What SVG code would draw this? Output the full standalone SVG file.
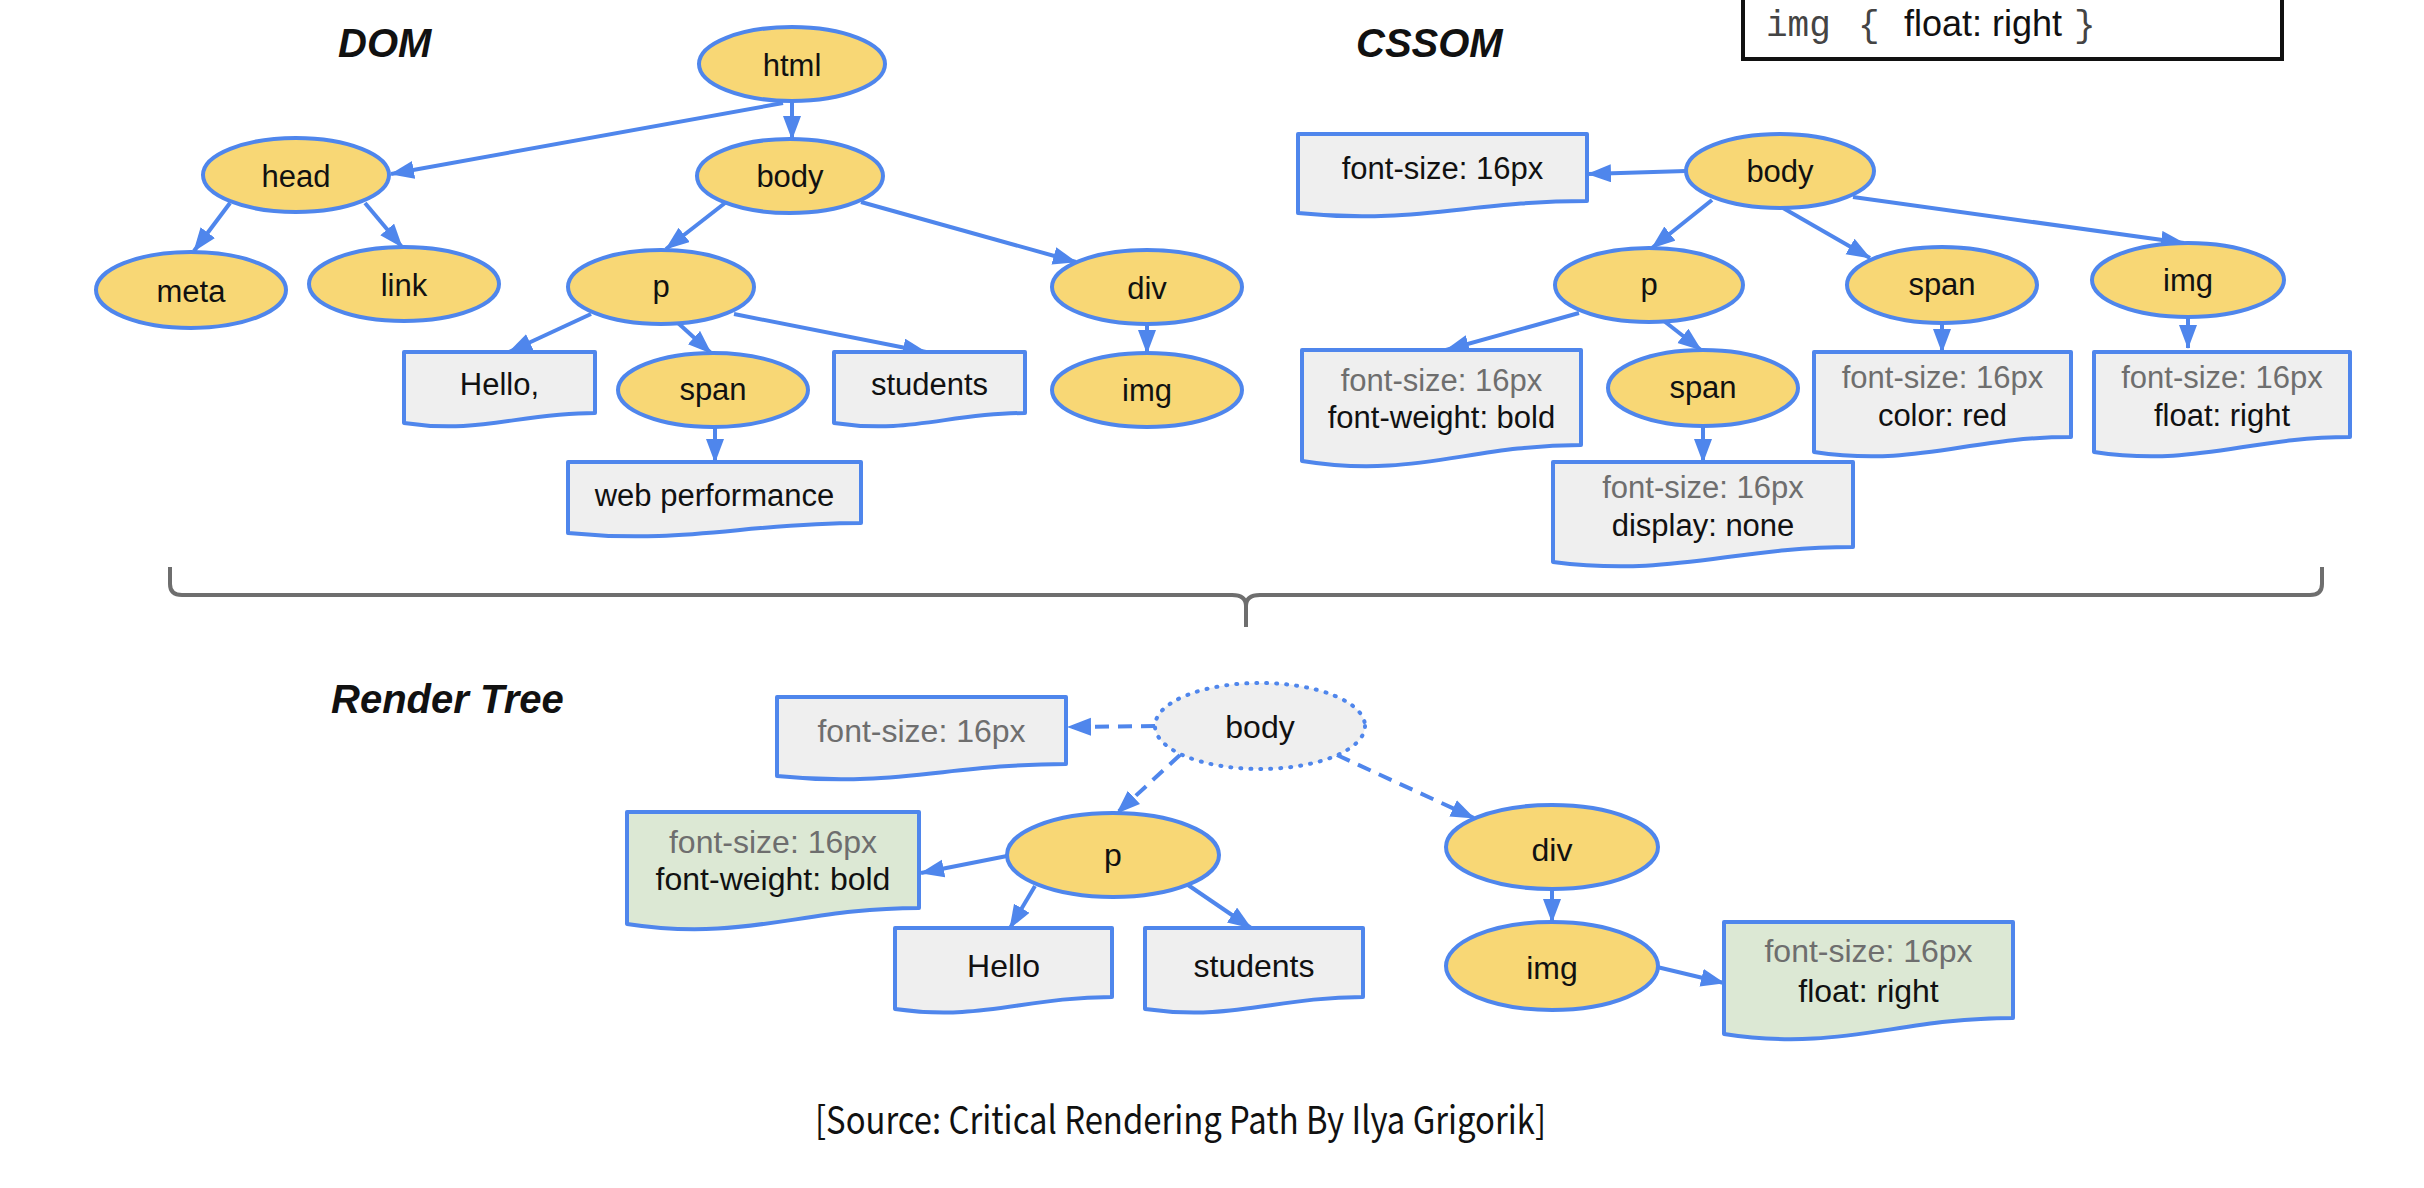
<svg xmlns="http://www.w3.org/2000/svg" width="2424" height="1188" viewBox="0 0 2424 1188">
<style>
.bg{fill:#ffffff}
.el{fill:#F8D775;stroke:#4F86EC;stroke-width:4}
.eld{fill:#EFEFEF;stroke:#4F86EC;stroke-width:4;stroke-dasharray:1 9;stroke-linecap:round}
.doc{fill:#EFEFEF;stroke:#4F86EC;stroke-width:4;stroke-linejoin:round}
.docg{fill:#DCE8D4;stroke:#4F86EC;stroke-width:4;stroke-linejoin:round}
.lbl{font-family:"Liberation Sans",Arial,sans-serif;font-size:31px;fill:#111;text-anchor:middle}
.lbl2{font-family:"Liberation Sans",Arial,sans-serif;font-size:32px;fill:#111;text-anchor:middle}
.gray{fill:#6E6E6E}
.title{font-family:"Liberation Sans",Arial,sans-serif;font-size:40px;font-weight:bold;font-style:italic;fill:#111}
.ln{fill:none;stroke:#4F86EC;stroke-width:4;marker-end:url(#ah)}
.dash{stroke-dasharray:14 9}
.mono{font-family:"Liberation Mono","Courier New",monospace;fill:#444}
</style>
<defs>
<marker id="ah" markerUnits="userSpaceOnUse" markerWidth="26" markerHeight="20" refX="23" refY="9" orient="auto">
<path d="M0,0 L24,9 L0,18 Z" fill="#4F86EC" stroke="none"/>
</marker>
</defs>
<rect class="bg" x="0" y="0" width="2424" height="1188"/>

<!-- titles -->
<text class="title" x="338" y="57">DOM</text>
<text class="title" x="1356" y="57">CSSOM</text>
<text class="title" x="331" y="713">Render Tree</text>

<!-- css rule box -->
<g id="css-rule">
<rect x="1743" y="-10" width="539" height="69" fill="#ffffff" stroke="#111" stroke-width="4"/>
<text y="36" font-size="36"><tspan class="mono" x="1766">img</tspan><tspan class="mono" x="1858">{</tspan><tspan x="1904" font-family="'Liberation Sans',Arial,sans-serif" fill="#111">float: right</tspan><tspan class="mono" x="2074">}</tspan></text>
</g>

<!-- connectors -->
<g id="connectors">
<!-- DOM -->
<line class="ln" x1="783" y1="103" x2="391" y2="174"/>
<line class="ln" x1="792" y1="101" x2="792" y2="139"/>
<line class="ln" x1="230" y1="203" x2="194" y2="251"/>
<line class="ln" x1="365" y1="203" x2="402" y2="247"/>
<line class="ln" x1="725" y1="203" x2="666" y2="249"/>
<line class="ln" x1="861" y1="202" x2="1076" y2="262"/>
<line class="ln" x1="591" y1="314" x2="509" y2="352"/>
<line class="ln" x1="678" y1="323" x2="711" y2="353"/>
<line class="ln" x1="734" y1="314" x2="926" y2="352"/>
<line class="ln" x1="1147" y1="324" x2="1147" y2="353"/>
<line class="ln" x1="715" y1="427" x2="715" y2="462"/>
<!-- CSSOM -->
<line class="ln" x1="1686" y1="171" x2="1588" y2="174"/>
<line class="ln" x1="1712" y1="200" x2="1652" y2="248"/>
<line class="ln" x1="1783" y1="208" x2="1870" y2="258"/>
<line class="ln" x1="1853" y1="197" x2="2184" y2="243"/>
<line class="ln" x1="1579" y1="313" x2="1446" y2="350"/>
<line class="ln" x1="1664" y1="321" x2="1701" y2="350"/>
<line class="ln" x1="1942" y1="323" x2="1942" y2="352"/>
<line class="ln" x1="2188" y1="317" x2="2188" y2="348"/>
<line class="ln" x1="1703" y1="426" x2="1703" y2="462"/>
<!-- Render tree -->
<line class="ln dash" x1="1155" y1="726" x2="1068" y2="727"/>
<line class="ln dash" x1="1180" y1="755" x2="1117" y2="813"/>
<line class="ln dash" x1="1337" y1="755" x2="1474" y2="818"/>
<line class="ln" x1="1007" y1="856" x2="921" y2="873"/>
<line class="ln" x1="1035" y1="886" x2="1010" y2="928"/>
<line class="ln" x1="1188" y1="885" x2="1251" y2="928"/>
<line class="ln" x1="1552" y1="889" x2="1552" y2="922"/>
<line class="ln" x1="1657" y1="967" x2="1724" y2="983"/>
</g>

<!-- DOM nodes -->
<g id="dom-html"><ellipse class="el" cx="792" cy="64" rx="93" ry="37"/><text class="lbl" x="792" y="76">html</text></g>
<g id="dom-head"><ellipse class="el" cx="296" cy="175" rx="93" ry="37"/><text class="lbl" x="296" y="187">head</text></g>
<g id="dom-body"><ellipse class="el" cx="790" cy="176" rx="93" ry="37"/><text class="lbl" x="790" y="187">body</text></g>
<g id="dom-meta"><ellipse class="el" cx="191" cy="290" rx="95" ry="38"/><text class="lbl" x="191" y="302">meta</text></g>
<g id="dom-link"><ellipse class="el" cx="404" cy="284" rx="95" ry="37"/><text class="lbl" x="404" y="296">link</text></g>
<g id="dom-p"><ellipse class="el" cx="661" cy="287" rx="93" ry="37"/><text class="lbl" x="661" y="297">p</text></g>
<g id="dom-div"><ellipse class="el" cx="1147" cy="287" rx="95" ry="37"/><text class="lbl" x="1147" y="299">div</text></g>
<g id="dom-hello"><path class="doc" d="M404,352 H595 V413 C519,413 480,434.5 404,423 Z"/><text class="lbl" x="499.5" y="395">Hello,</text></g>
<g id="dom-span"><ellipse class="el" cx="713" cy="390" rx="95" ry="37"/><text class="lbl" x="713" y="400">span</text></g>
<g id="dom-students"><path class="doc" d="M834,352 H1025 V413 C949,413 910,434.5 834,423 Z"/><text class="lbl" x="929.5" y="395">students</text></g>
<g id="dom-img"><ellipse class="el" cx="1147" cy="390" rx="95" ry="37"/><text class="lbl" x="1147" y="401">img</text></g>
<g id="dom-webperf"><path class="doc" d="M568,462 H861 V523 C744,523 685,544.5 568,533 Z"/><text class="lbl" x="714.5" y="506">web performance</text></g>

<!-- CSSOM nodes -->
<g id="css-body-style"><path class="doc" d="M1298,134 H1587 V201 C1471,201 1414,225 1298,213 Z"/><text class="lbl" x="1442.5" y="179">font-size: 16px</text></g>
<g id="css-body"><ellipse class="el" cx="1780" cy="171" rx="94" ry="37"/><text class="lbl" x="1780" y="182">body</text></g>
<g id="css-p"><ellipse class="el" cx="1649" cy="285" rx="94" ry="37"/><text class="lbl" x="1649" y="295">p</text></g>
<g id="css-span"><ellipse class="el" cx="1942" cy="285" rx="95" ry="38"/><text class="lbl" x="1942" y="295">span</text></g>
<g id="css-img"><ellipse class="el" cx="2188" cy="280" rx="96" ry="37"/><text class="lbl" x="2188" y="291">img</text></g>
<g id="css-p-style"><path class="doc" d="M1302,350 H1581 V445 C1469,445 1414,479 1302,461 Z"/><text class="lbl gray" x="1441.5" y="391">font-size: 16px</text><text class="lbl" x="1441.5" y="428">font-weight: bold</text></g>
<g id="css-span2"><ellipse class="el" cx="1703" cy="388" rx="95" ry="38"/><text class="lbl" x="1703" y="398">span</text></g>
<g id="css-span-style"><path class="doc" d="M1814,352 H2071 V437 C1968,437 1917,467.5 1814,452 Z"/><text class="lbl gray" x="1942.5" y="388">font-size: 16px</text><text class="lbl" x="1942.5" y="426">color: red</text></g>
<g id="css-img-style"><path class="doc" d="M2094,352 H2350 V437 C2248,437 2196,467.5 2094,452 Z"/><text class="lbl gray" x="2222" y="388">font-size: 16px</text><text class="lbl" x="2222" y="426">float: right</text></g>
<g id="css-span2-style"><path class="doc" d="M1553,462 H1853 V547 C1733,547 1673,577.5 1553,562 Z"/><text class="lbl gray" x="1703" y="498">font-size: 16px</text><text class="lbl" x="1703" y="536">display: none</text></g>

<!-- brace -->
<g id="brace">
<path d="M170,567 V584 Q170,595 182,595 H1232 Q1246,595 1246,606 V627 M1246,606 Q1246,595 1260,595 H2310 Q2322,595 2322,584 V567" fill="none" stroke="#6E6E6E" stroke-width="4" stroke-linejoin="round"/>
</g>

<!-- Render tree nodes -->
<g id="rt-body-style"><path class="doc" d="M777,697 H1066 V764 C950,764 893,788 777,776 Z"/><text class="lbl2 gray" x="921.5" y="742">font-size: 16px</text></g>
<g id="rt-body"><ellipse class="eld" cx="1260" cy="726" rx="105" ry="43"/><text class="lbl2" x="1260" y="738">body</text></g>
<g id="rt-p-style"><path class="docg" d="M627,812 H919 V908 C802,908 744,942 627,924 Z"/><text class="lbl2 gray" x="773" y="853">font-size: 16px</text><text class="lbl2" x="773" y="890">font-weight: bold</text></g>
<g id="rt-p"><ellipse class="el" cx="1113" cy="855" rx="106" ry="42"/><text class="lbl2" x="1113" y="866">p</text></g>
<g id="rt-div"><ellipse class="el" cx="1552" cy="847" rx="106" ry="42"/><text class="lbl2" x="1552" y="861">div</text></g>
<g id="rt-hello"><path class="doc" d="M895,928 H1112 V997 C1025,997 982,1021.5 895,1009 Z"/><text class="lbl2" x="1003.5" y="977">Hello</text></g>
<g id="rt-students"><path class="doc" d="M1145,928 H1363 V997 C1276,997 1232,1021.5 1145,1009 Z"/><text class="lbl2" x="1254" y="977">students</text></g>
<g id="rt-img"><ellipse class="el" cx="1552" cy="966" rx="106" ry="44"/><text class="lbl2" x="1552" y="979">img</text></g>
<g id="rt-img-style"><path class="docg" d="M1724,922 H2013 V1018 C1897,1018 1840,1052 1724,1034 Z"/><text class="lbl2 gray" x="1868.5" y="962">font-size: 16px</text><text class="lbl2" x="1868.5" y="1002">float: right</text></g>

<!-- source -->
<text x="815" y="1134" font-family="'Noto Sans CJK KR','Noto Sans',sans-serif" font-size="38" fill="#111" textLength="731" lengthAdjust="spacingAndGlyphs">[Source: Critical Rendering Path By Ilya Grigorik]</text>
</svg>
